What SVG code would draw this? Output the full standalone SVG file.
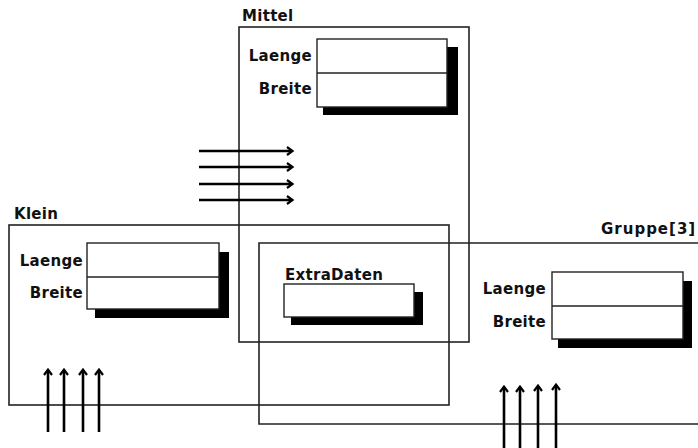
<svg xmlns="http://www.w3.org/2000/svg" width="698" height="448" viewBox="0 0 698 448">
<style>
.frame{fill:none;stroke:#222;stroke-width:1.6}
.box{fill:#fff;stroke:#222;stroke-width:1.4}
.shadow{fill:#000}
.div{stroke:#222;stroke-width:1.4}
text{font-family:"DejaVu Sans",Verdana,sans-serif;font-weight:bold;font-size:15px;letter-spacing:0.3px;fill:#111}
.r{text-anchor:end}
.arr{stroke:#000;stroke-width:2.6;fill:none;marker-end:url(#ah)}
</style>
<defs>
<marker id="ah" markerWidth="10" markerHeight="10" refX="6" refY="5" orient="auto" markerUnits="userSpaceOnUse">
<path d="M1,1 L6.5,5 L1,9" fill="none" stroke="#000" stroke-width="2.2"/>
</marker>
</defs>
<rect width="698" height="448" fill="#fff"/>
<g id="Mittel">
<rect class="frame" x="239" y="27" width="230" height="315"/>
<text x="242" y="21">Mittel</text>
<rect class="shadow" x="323" y="47" width="135" height="68"/>
<rect class="box" x="317" y="39" width="130" height="68"/>
<line class="div" x1="317" y1="73" x2="447" y2="73"/>
<text class="r" x="312" y="61">Laenge</text>
<text class="r" x="312" y="94">Breite</text>
</g>
<g id="Klein">
<rect class="frame" x="9" y="225" width="440" height="180"/>
<text x="14" y="219">Klein</text>
<rect class="shadow" x="95" y="252" width="134" height="66"/>
<rect class="box" x="87" y="243" width="132" height="66"/>
<line class="div" x1="87" y1="277" x2="219" y2="277"/>
<text class="r" x="83" y="266">Laenge</text>
<text class="r" x="83" y="298">Breite</text>
</g>
<g id="Gruppe">
<path class="frame" d="M700,243 H259 V424 H700"/>
<text x="601" y="234" style="letter-spacing:1px">Gruppe[3]</text>
<rect class="shadow" x="558" y="281" width="134" height="67"/>
<rect class="box" x="552" y="272" width="131" height="67"/>
<line class="div" x1="552" y1="306" x2="683" y2="306"/>
<text class="r" x="546" y="294">Laenge</text>
<text class="r" x="546" y="327">Breite</text>
</g>
<g id="ExtraDaten">
<text x="285" y="280">ExtraDaten</text>
<rect class="shadow" x="291" y="292" width="132" height="33"/>
<rect class="box" x="284" y="284" width="130" height="33"/>
</g>
<g id="connectors">
<line class="arr" x1="199" y1="151" x2="292" y2="151"/>
<line class="arr" x1="199" y1="167" x2="292" y2="167"/>
<line class="arr" x1="199" y1="184" x2="292" y2="184"/>
<line class="arr" x1="199" y1="200" x2="292" y2="200"/>
<line class="arr" x1="48" y1="432" x2="48" y2="370"/>
<line class="arr" x1="64" y1="432" x2="64" y2="370"/>
<line class="arr" x1="83" y1="432" x2="83" y2="370"/>
<line class="arr" x1="99" y1="432" x2="99" y2="370"/>
<line class="arr" x1="504" y1="448" x2="504" y2="387"/>
<line class="arr" x1="520" y1="448" x2="520" y2="387"/>
<line class="arr" x1="538" y1="448" x2="538" y2="386"/>
<line class="arr" x1="556" y1="448" x2="556" y2="385"/>
</g>
</svg>
